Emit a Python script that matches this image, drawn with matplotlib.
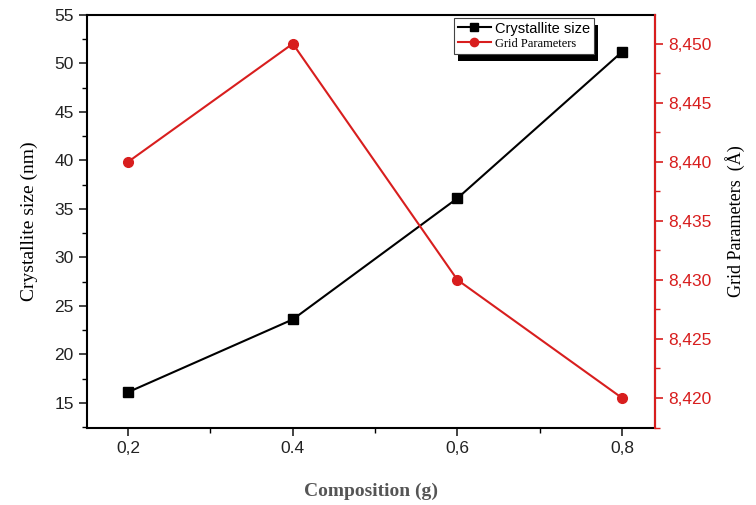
import numpy as np
import matplotlib
matplotlib.use("Agg")
import matplotlib.pyplot as plt
from matplotlib.ticker import MultipleLocator
from matplotlib.patches import Rectangle

# --- DATA ---
composition = [0.2, 0.4, 0.6, 0.8]
x_labels = ["0,2", "0.4", "0,6", "0,8"]
crystallite_size = [16.1, 23.6, 36.1, 51.2]
grid_params = [8.440, 8.450, 8.430, 8.420]
left_ticks = [15, 20, 25, 30, 35, 40, 45, 50, 55]
right_ticks = [8.420, 8.425, 8.430, 8.435, 8.440, 8.445, 8.450]

red = "#d81e1e"

fig = plt.figure(figsize=(7.56, 5.05), dpi=100)
ax = fig.add_axes([87 / 756, 1 - 428 / 505, (655 - 87) / 756, (428 - 15) / 505])
ax2 = ax.twinx()

l1, = ax.plot(composition, crystallite_size, color="black", lw=1.5,
              marker="s", ms=6.5, label="Crystallite size")
l2, = ax2.plot(composition, grid_params, color=red, lw=1.5,
               marker="o", ms=7, label="Grid Parameters")

ax.set_xlim(0.150, 0.840)
ax.set_ylim(12.4, 55)
ax2.set_ylim(8.41746, 8.45243)

ax.set_xticks(composition)
ax.set_xticklabels(x_labels)
ax.xaxis.set_minor_locator(MultipleLocator(0.1))
ax.set_yticks(left_ticks)
ax.yaxis.set_minor_locator(MultipleLocator(2.5))
ax2.set_yticks(right_ticks)
ax2.set_yticklabels([f"{v:.3f}".replace(".", ",") for v in right_ticks])
ax2.yaxis.set_minor_locator(MultipleLocator(0.0025))

for a in (ax, ax2):
    a.tick_params(which="major", direction="out", length=6, width=1.2,
                  labelsize=12.5)
    a.tick_params(which="minor", direction="out", length=3.5, width=1.0)
    for lab in a.get_xticklabels() + a.get_yticklabels():
        lab.set_fontfamily("Liberation Sans")

ax.tick_params(axis="both", colors="#222222")
ax2.tick_params(axis="y", which="both", colors=red)
for lab in ax2.get_yticklabels():
    lab.set_color(red)

for s in ax.spines.values():
    s.set_linewidth(1.5)
for s in ax2.spines.values():
    s.set_linewidth(1.5)
ax2.spines["right"].set_color(red)
ax2.spines["left"].set_visible(False)
ax2.spines["bottom"].set_visible(False)
ax2.spines["top"].set_visible(False)

ax.set_ylabel("Crystallite size (nm)", family="Liberation Serif",
              fontsize=14, labelpad=12)
ax2.set_ylabel("Grid Parameters  (\u00c5)", family="Liberation Serif",
               fontsize=13, labelpad=10)
ax.set_xlabel("Composition (g)", family="Liberation Serif", fontsize=14,
              fontweight="bold", color="#555555", labelpad=19)

leg = ax2.legend(handles=[l1, l2], loc="upper left",
                 bbox_to_anchor=(367 / 568, 0.993), borderaxespad=0,
                 fancybox=False, framealpha=1, edgecolor="#444444",
                 fontsize=10.5, borderpad=0.25, handlelength=2.3,
                 handletextpad=0.25, labelspacing=0.1, markerscale=0.85)
leg.get_frame().set_linewidth(0.8)
leg.texts[0].set_fontfamily("Liberation Sans")
leg.texts[1].set_fontfamily("Liberation Serif")
leg.texts[1].set_fontsize(9)

# solid black drop shadow under the legend box, offset right and down
fig.canvas.draw()
bb = leg.get_window_extent().transformed(fig.transFigure.inverted())
dx, dy = 4 / 756, 7 / 505
shadow = Rectangle((bb.x0 + dx, bb.y0 - dy), bb.width, bb.height,
                   transform=fig.transFigure, facecolor="black",
                   edgecolor="none", zorder=leg.get_zorder() - 0.1)
ax2.add_artist(shadow)
shadow.set_clip_on(False)

fig.savefig("out.png", dpi=100)
